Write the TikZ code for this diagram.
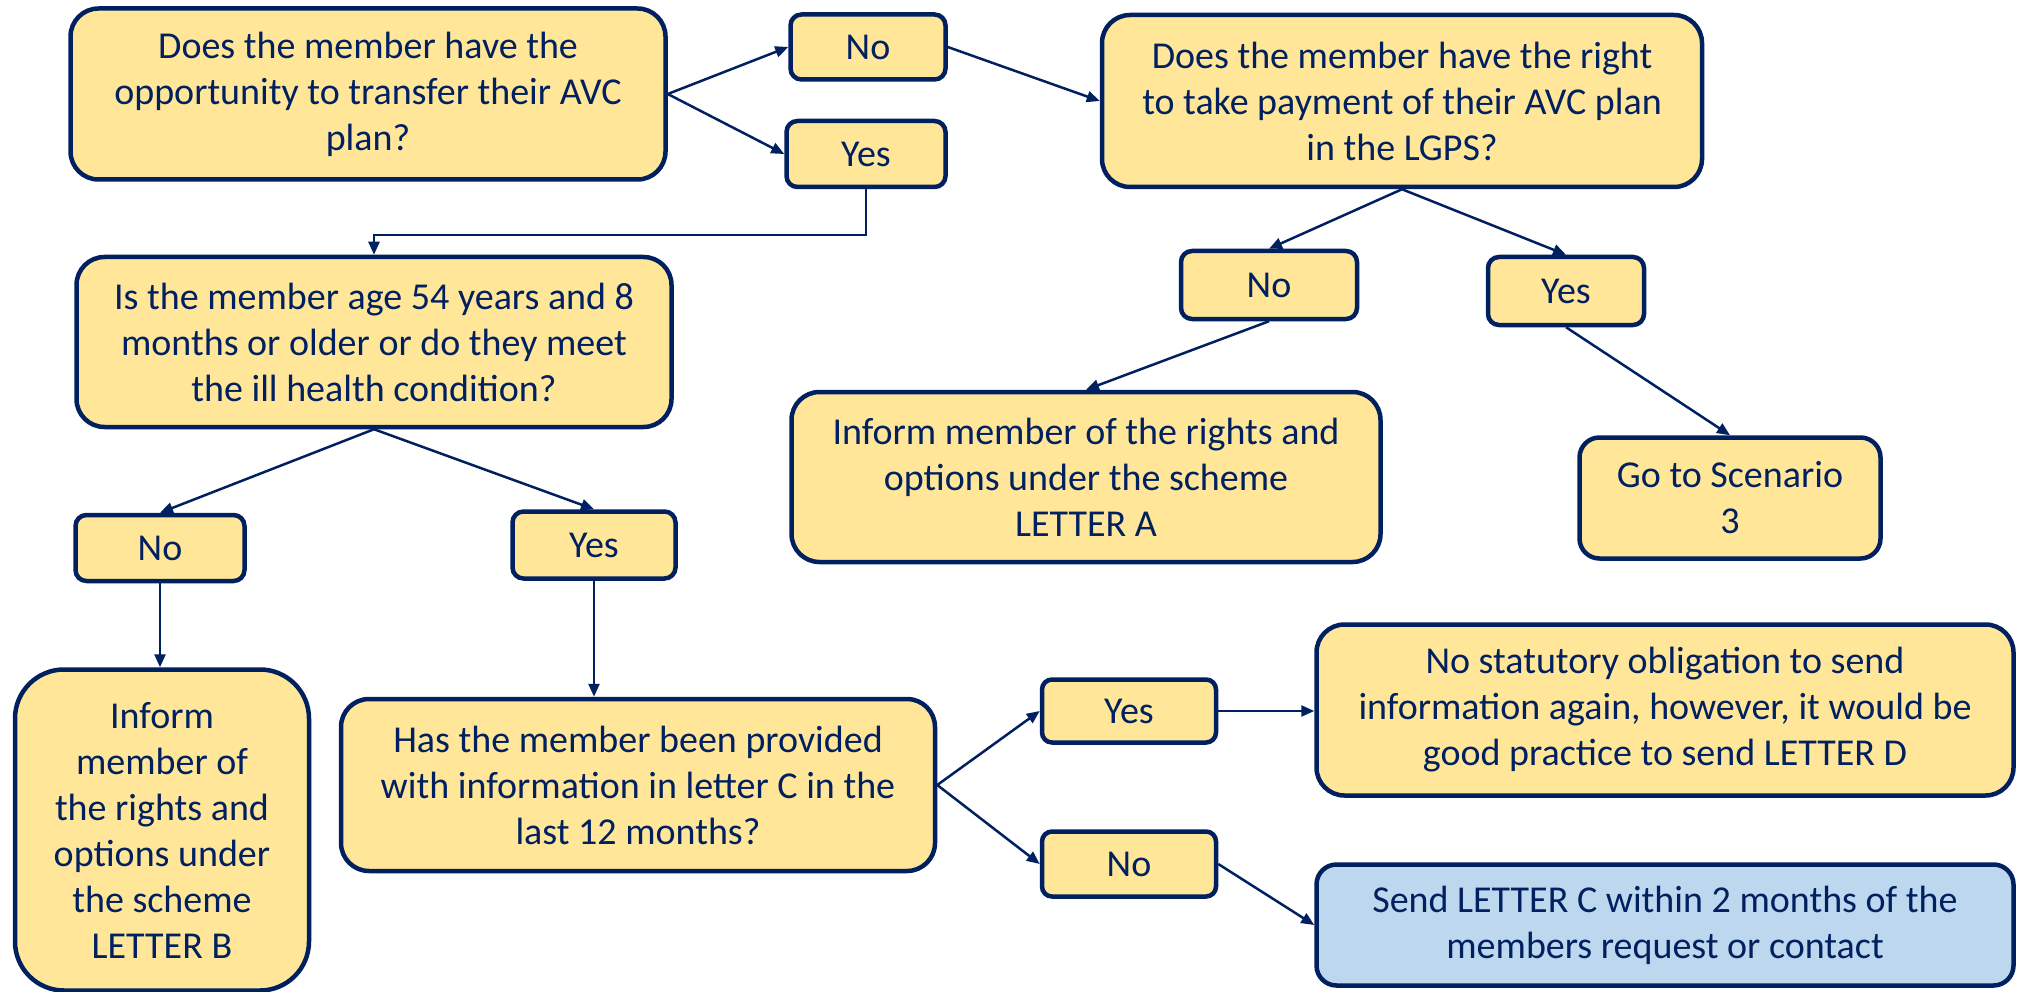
\documentclass[tikz,border=0pt]{standalone}
\usepackage{fontspec}
\setmainfont{Carlito}
\usetikzlibrary{arrows.meta,calc}
\definecolor{navy}{HTML}{002060}
\definecolor{gold}{HTML}{FFE699}
\definecolor{lblue}{HTML}{BDD7EE}
\tikzset{
 box/.style={draw=navy, line width=4.5pt, fill=gold, text=navy, align=center, inner sep=0pt, font=\fontsize{38}{46}\selectfont},
 bluebox/.style={box, fill=lblue},
 conn/.style={draw=navy, line width=2.5pt, -{Triangle[length=13pt,width=11pt]}},
}
\begin{document}
\begin{tikzpicture}[x=1pt,y=-1pt]
\useasboundingbox (0,0) rectangle (2017,992);
% top row
\node[box, minimum width=595pt, minimum height=171pt, rounded corners=28pt] (q1) at (368,94) {Does the member have the\\opportunity to transfer their AVC\\plan?};
\node[box, minimum width=155pt, minimum height=65pt, rounded corners=11pt] (no1) at (868,47) {No};
\node[box, minimum width=159pt, minimum height=66pt, rounded corners=11pt] (yes1) at (866,154) {Yes};
\node[box, minimum width=600pt, minimum height=172pt, rounded corners=28pt] (q2) at (1402,101) {Does the member have the right\\to take payment of their AVC plan\\in the LGPS?};
\node[box, minimum width=176pt, minimum height=68pt, rounded corners=11pt] (no2) at (1269,285) {No};
\node[box, minimum width=156pt, minimum height=68pt, rounded corners=11pt] (yes2) at (1566,291) {Yes};
\node[box, minimum width=589pt, minimum height=170pt, rounded corners=28pt] (la) at (1086,477) {Inform member of the rights and\\options under the scheme\\LETTER A};
\node[box, minimum width=301pt, minimum height=121pt, rounded corners=20pt] (sc3) at (1730,498) {Go to Scenario\\3};
% left part
\node[box, minimum width=595pt, minimum height=170pt, rounded corners=28pt] (q3) at (374,342) {Is the member age 54 years and 8\\months or older or do they meet\\the ill health condition?};
\node[box, minimum width=169pt, minimum height=66pt, rounded corners=11pt] (no3) at (160,548) {No};
\node[box, minimum width=163pt, minimum height=67pt, rounded corners=11pt] (yes3) at (594,545) {Yes};
\node[box, minimum width=294pt, minimum height=321pt, rounded corners=49pt] (lb) at (162,830) {Inform\\member of\\the rights and\\options under\\the scheme\\LETTER B};
\node[box, minimum width=594pt, minimum height=172pt, rounded corners=28pt] (q4) at (638,785) {Has the member been provided\\with information in letter C in the\\last 12 months?};
\node[box, minimum width=174pt, minimum height=63pt, rounded corners=10pt] (yes4) at (1129,711) {Yes};
\node[box, minimum width=174pt, minimum height=65pt, rounded corners=10pt] (no4) at (1129,864) {No};
\node[box, minimum width=697pt, minimum height=171pt, rounded corners=28pt] (ld) at (1665,710) {No statutory obligation to send\\information again, however, it would be\\good practice to send LETTER D};
\node[bluebox, minimum width=697pt, minimum height=121pt, rounded corners=20pt] (lc) at (1665,925) {Send LETTER C within 2 months of the\\members request or contact};
% connectors
\draw[conn] (q1.east) -- (no1.west);
\draw[conn] (q1.east) -- (yes1.west);
\draw[conn] (no1.east) -- (q2.west);
\draw[conn] (yes1.south) -- ++(0,46) -| (q3.north);
\draw[conn] (q2.south) -- (no2.north);
\draw[conn] (q2.south) -- (yes2.north);
\draw[conn] (no2.south) -- (la.north);
\draw[conn] (yes2.south) -- (sc3.north);
\draw[conn] (q3.south) -- (no3.north);
\draw[conn] (q3.south) -- (yes3.north);
\draw[conn] (no3.south) -- (no3.south |- lb.north);
\draw[conn] (yes3.south) -- (yes3.south |- q4.north);
\draw[conn] (q4.east) -- (yes4.west);
\draw[conn] (q4.east) -- (no4.west);
\draw[conn] (yes4.east) -- (ld.west |- yes4.east);
\draw[conn] (no4.east) -- (lc.west);
\end{tikzpicture}
\end{document}
